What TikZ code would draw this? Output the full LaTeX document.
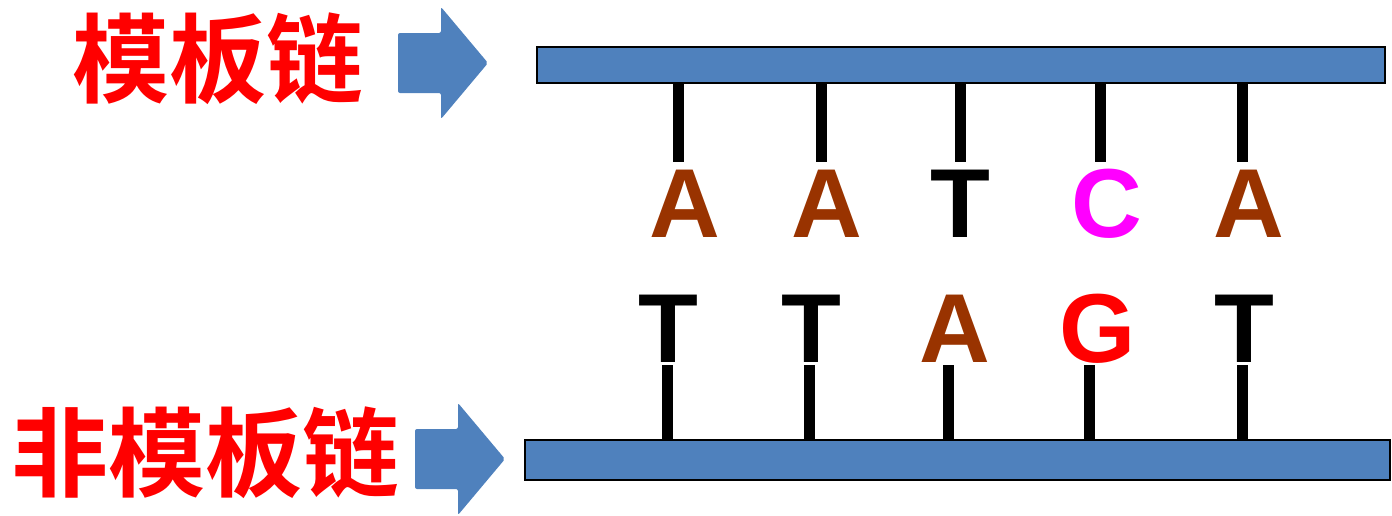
\documentclass[tikz,border=0pt]{standalone}
\usepackage{fontspec}
\setmainfont{Liberation Sans}
\newfontfamily\cjk{Noto Sans CJK SC}[BoldFont={Noto Sans CJK SC Bold}]
\definecolor{barblue}{HTML}{4F81BD}
\definecolor{brownA}{HTML}{993300}
\definecolor{magC}{HTML}{FF00FF}
\definecolor{redG}{HTML}{FF0000}
\tikzset{
  bar/.style={draw=black, line width=2pt, fill=barblue},
  blockarrow/.style={fill=barblue, draw=none, rounded corners=2pt},
  base/.style={font=\fontsize{98}{98}\selectfont\bfseries, inner sep=0pt, anchor=base},
  label/.style={font=\fontsize{97}{97}\selectfont\cjk\bfseries, text=redG, inner sep=0pt, anchor=base},
  bond/.style={line width=11pt, black},
}
\begin{document}
\begin{tikzpicture}[x=1pt,y=-1pt]
\useasboundingbox (0,0) rectangle (1392,515);
% bars
\draw[bar] (537,47) rectangle (1385,83);
\draw[bar] (525,440) rectangle (1390,480);
% arrows
\fill[blockarrow] (398,33) -- (441,33) -- (441,7) -- (488,63) -- (441,119) -- (441,93) -- (398,93) -- cycle;
\fill[blockarrow] (415,429) -- (458,429) -- (458,403) -- (505,459) -- (458,515) -- (458,489) -- (415,489) -- cycle;
% labels
\node[label] (tmpl) at (218,95) {模板链};
\node[label] (ntmpl) at (206,489) {非模板链};
% top letters
\node[base, text=brownA] (t1) at (685,237) {A};
\node[base, text=brownA] (t2) at (827,237) {A};
\node[base, text=black] (t3) at (960,237) {T};
\node[base, text=magC] (t4) at (1107,237) {C};
\node[base, text=brownA] (t5) at (1249,237) {A};
% bottom letters
\node[base, text=black] (b1) at (668,362) {T};
\node[base, text=black] (b2) at (811,362) {T};
\node[base, text=brownA] (b3) at (955,362) {A};
\node[base, text=redG] (b4) at (1098,362) {G};
\node[base, text=black] (b5) at (1244,362) {T};
% bond coordinates
\foreach \i/\x in {1/678,2/821,3/960,4/1100,5/1242}{
  \coordinate (ts\i) at (\x,83);
  \coordinate (te\i) at (\x,162);
}
\foreach \i/\x in {1/667,2/809,3/948,4/1089,5/1242}{
  \coordinate (bs\i) at (\x,440);
  \coordinate (be\i) at (\x,365);
}
\foreach \i in {1,...,5}{
  \draw[bond] (ts\i) -- (te\i);
  \draw[bond] (bs\i) -- (be\i);
}
\end{tikzpicture}
\end{document}
